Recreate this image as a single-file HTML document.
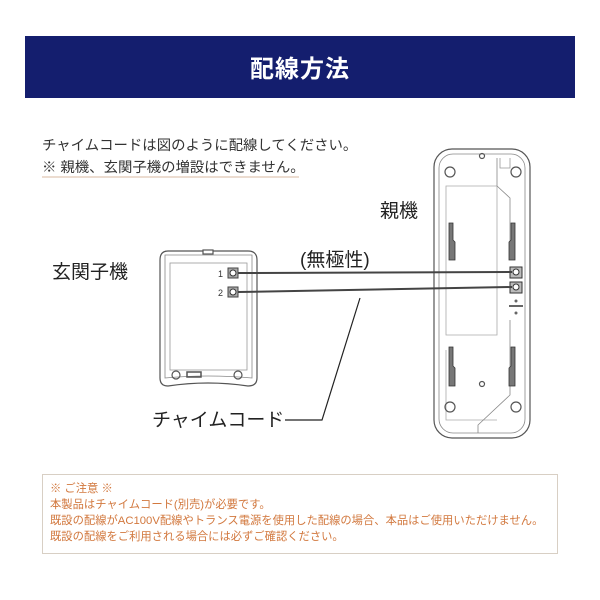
<!DOCTYPE html>
<html><head><meta charset="utf-8"><style>
body{margin:0;background:#fff}
svg{display:block}
text{font-family:"Liberation Sans","Noto Sans CJK JP",sans-serif}
</style></head><body>
<svg width="600" height="600" viewBox="0 0 600 600" xmlns="http://www.w3.org/2000/svg">
<rect x="25" y="36" width="550" height="62" fill="#141e6e"/>
<text x="300" y="77" font-size="24" font-weight="bold" fill="#fff" text-anchor="middle" letter-spacing="1">配線方法</text>
<text x="42" y="150" font-size="14.4" fill="#333">チャイムコードは図のように配線してください。</text>
<text x="42" y="172" font-size="14.4" fill="#333">※ 親機、玄関子機の増設はできません。</text>
<line x1="42" y1="177" x2="299" y2="177" stroke="#d9b9a0" stroke-width="1"/>

<!-- child unit -->
<g fill="none" stroke="#555" stroke-width="1.2">
<path d="M168 251 H248 Q257 251 257 260 V378 Q257 386 248 386 Q208 380 168 386 Q160 386 160 378 V260 Q160 251 168 251Z"/>
<path d="M165 255 H252 V378 Q208 374 165 378Z" stroke="#888" stroke-width="0.8"/>
<rect x="170" y="263" width="77" height="107" stroke="#999" stroke-width="0.8"/>
<rect x="203" y="250" width="10" height="4" fill="#fff"/>
<circle cx="176" cy="375" r="4"/><circle cx="238" cy="375" r="4"/>
<rect x="187" y="372" width="14" height="5" stroke-width="1.5"/>
</g>
<rect x="228" y="268" width="10" height="10" fill="#aaa" stroke="#444"/>
<circle cx="233" cy="273" r="3" fill="#fff" stroke="#333"/>
<rect x="228" y="287" width="10" height="10" fill="#aaa" stroke="#444"/>
<circle cx="233" cy="292" r="3" fill="#fff" stroke="#333"/>
<text x="218" y="277" font-size="9" fill="#333">1</text>
<text x="218" y="296" font-size="9" fill="#333">2</text>

<!-- parent unit -->
<g fill="none" stroke="#555" stroke-width="1.2">
<rect x="434" y="149" width="96" height="289" rx="18"/>
<rect x="439" y="154" width="86" height="279" rx="14" stroke="#888" stroke-width="0.8"/>
<path d="M446 186 H497 V335 H446Z M446 350 V420 H497" stroke="#aaa" stroke-width="0.8"/>
<path d="M497 158 V186 L510 198 V255 M510 320 V395 L478 425 V433" stroke="#888" stroke-width="0.8"/>
<path d="M500 158 V168 H510 V158" stroke="#999" stroke-width="0.8"/>
<circle cx="450" cy="172" r="5"/><circle cx="516" cy="172" r="5"/>
<circle cx="450" cy="407" r="5"/><circle cx="516" cy="407" r="5"/>
<circle cx="482" cy="156" r="2.5"/><circle cx="482" cy="384" r="2.5"/>
</g>
<g fill="#777" stroke="#333" stroke-width="0.8">
<path d="M449 223 H453 V240 L455 242 V260 H449Z"/>
<path d="M511 223 H515 V260 H509 V242 L511 240Z"/>
<path d="M449 347 H453 V366 L455 368 V386 H449Z"/>
<path d="M511 347 H515 V386 H509 V368 L511 366Z"/>
</g>
<rect x="510" y="267" width="12" height="11" fill="#bbb" stroke="#333"/>
<rect x="510" y="282" width="12" height="11" fill="#bbb" stroke="#333"/>
<circle cx="516" cy="272" r="3" fill="#fff" stroke="#333"/>
<circle cx="516" cy="287" r="3" fill="#fff" stroke="#333"/>
<circle cx="516" cy="301" r="1.5" fill="#666"/><circle cx="516" cy="313" r="1.5" fill="#666"/>
<line x1="509" y1="306" x2="523" y2="306" stroke="#333" stroke-width="1.5"/>

<!-- wires -->
<line x1="238" y1="273" x2="512" y2="272" stroke="#444" stroke-width="2"/>
<line x1="238" y1="292" x2="512" y2="287" stroke="#444" stroke-width="2"/>
<polyline points="360,298 322,420 285,420" fill="none" stroke="#222" stroke-width="1.2"/>

<text x="52" y="278" font-size="19" fill="#222">玄関子機</text>
<text x="380" y="217" font-size="19" fill="#222">親機</text>
<text x="300" y="266" font-size="19" fill="#222">(無極性)</text>
<text x="152" y="426" font-size="19" fill="#222">チャイムコード</text>

<rect x="42.5" y="474.5" width="515" height="79" fill="#fff" stroke="#d8cfc4"/>
<g font-size="11.3" fill="#d2783e">
<text x="50" y="492">※ ご注意 ※</text>
<text x="50" y="508">本製品はチャイムコード(別売)が必要です。</text>
<text x="50" y="524">既設の配線がAC100V配線やトランス電源を使用した配線の場合、本品はご使用いただけません。</text>
<text x="50" y="540">既設の配線をご利用される場合には必ずご確認ください。</text>
</g>
</svg>
</body></html>
